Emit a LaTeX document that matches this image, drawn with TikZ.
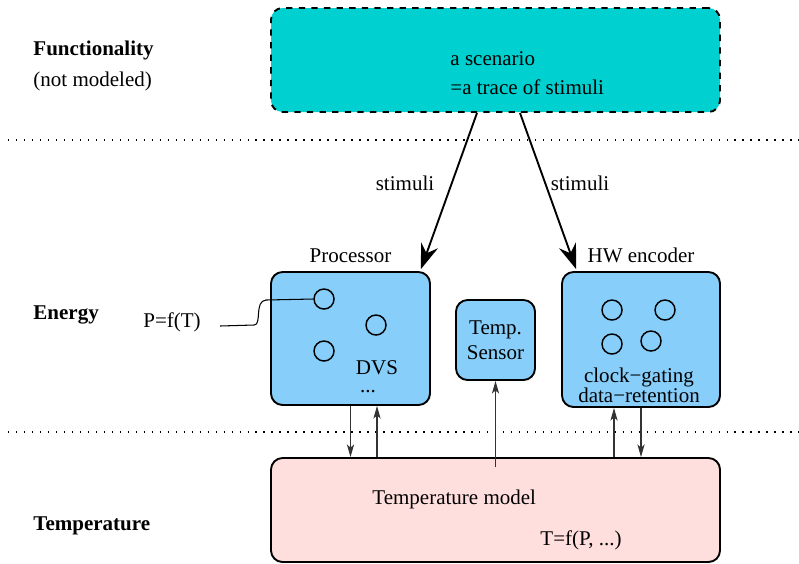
\documentclass[tikz,border=0pt]{standalone}
\usepackage{fontspec}
\setmainfont{Liberation Serif}
\usepackage{tikz}
\usetikzlibrary{arrows.meta,positioning,calc}

\newcommand{\pxu}{0.476pt}

\begin{document}
\begin{tikzpicture}[x=0.476pt, y=-0.476pt, every node/.style={font=\normalsize},
        txt/.style={inner sep=0pt, anchor=west},
        blk/.style={draw, line width=0.9pt, rounded corners=5.5pt, inner sep=0pt},
        dot/.style={circle, draw, line width=0.7pt, minimum size=20*\pxu, inner sep=0pt},
        sep/.style={line width=0.7pt, dash pattern=on 0.7pt off 3.1pt},
        stim/.style={line width=0.9pt, -{Stealth[length=12pt, width=8.5pt, inset=4pt]}},
        heat/.style={line width=0.5pt, black!80, -{Stealth[length=6pt, width=3.4pt, inset=1.5pt]}}]
        \definecolor{scencyan}{RGB}{0,208,208}
        \definecolor{blkblue}{RGB}{135,206,250}
        \definecolor{modpink}{RGB}{255,222,222}

        \useasboundingbox (0,0) rectangle (799,563);

        % Layer separators
        \draw[sep] (8,140) -- (799,140);
        \draw[sep] (8,432) -- (799,432);

        % Layer names
        \node[txt, font=\bfseries] (lfun) at (33,50) {Functionality};
        \node[txt] (lnot) at (33,81) {(not modeled)};
        \node[txt, font=\bfseries] (lene) at (33,315) {Energy};
        \node[txt, font=\bfseries] (ltem) at (33,526) {Temperature};

        % Scenario
        \node[blk, dashed, fill=scencyan, minimum width=449*\pxu, minimum height=104*\pxu] (scen) at (495.5,60) {};
        \node[txt, align=left] (scentxt) at (450,73.5) {a scenario\\[1.8pt]=a trace of stimuli};

        % Energy layer blocks
        \node[blk, fill=blkblue, minimum width=159*\pxu, minimum height=133*\pxu] (proc) at (350.5,338.5) {};
        \node[blk, fill=blkblue, minimum width=79*\pxu, minimum height=80*\pxu, align=center] (sens) at (495.5,340) {Temp.\\Sensor};
        \node[blk, fill=blkblue, minimum width=158*\pxu, minimum height=135*\pxu] (hwenc) at (641,339.5) {};

        \node[above=0.5pt of proc] (proclbl) {Processor};
        \node[above=0.5pt of hwenc] (hwlbl) {HW encoder};

        % Processor contents
        \node[dot] (pc1) at (324,299) {};
        \node[dot] (pc2) at (376,325) {};
        \node[dot] (pc3) at (324,351) {};
        \node (dvs) at (377,368) {DVS};
        \node (pdots) at (368,392) {...};

        % HW encoder contents
        \node[dot] (hc1) at (612,310) {};
        \node[dot] (hc2) at (665,310) {};
        \node[dot] (hc3) at (612,344) {};
        \node[dot] (hc4) at (651,341) {};
        \node[align=center] (hwtxt) at (639,385) {clock−gating\\[-2.6pt]data−retention};

        % Power model
        \node (pft) at (172,322) {P=f(T)};
        \draw[line width=0.5pt] ($(pft.east)+(12,4)$) -- ++(34,-1) .. controls +(8,0) and (254,301) .. (266,300) -- (pc1.west);

        % Temperature model
        \node[blk, fill=modpink, minimum width=449*\pxu, minimum height=104*\pxu] (tmod) at (495.5,510) {};
        \node[txt] (tmodtxt) at (372,499) {Temperature model};
        \node[txt] (tftxt) at (540,540) {T=f(P, ...)};

        % Stimuli
        \draw[stim] ($(scen.south)+(-18.5,0)$) -- ($(proc.north east)+(-10,-2)$);
        \draw[stim] ($(scen.south)+(24.5,0)$) -- ($(hwenc.north west)+(15,-2)$);
        \node (stim1) at (405,183) {stimuli};
        \node (stim2) at (580,183) {stimuli};

        % Power / temperature exchange
        \coordinate (pup) at ($(proc.south)+(26.5,0)$);
        \coordinate (hup) at ($(hwenc.south)+(-27,0)$);
        \draw[heat] (proc.south) -- (proc.south |- tmod.north);
        \draw[heat] (pup |- tmod.north) -- (pup);
        \draw[heat] (hup |- tmod.north) -- (hup);
        \draw[heat] (hwenc.south) -- (hwenc.south |- tmod.north);
        \draw[heat] ($(sens.south |- tmod.north)+(0,10)$) -- (sens.south);
\end{tikzpicture}
\end{document}
